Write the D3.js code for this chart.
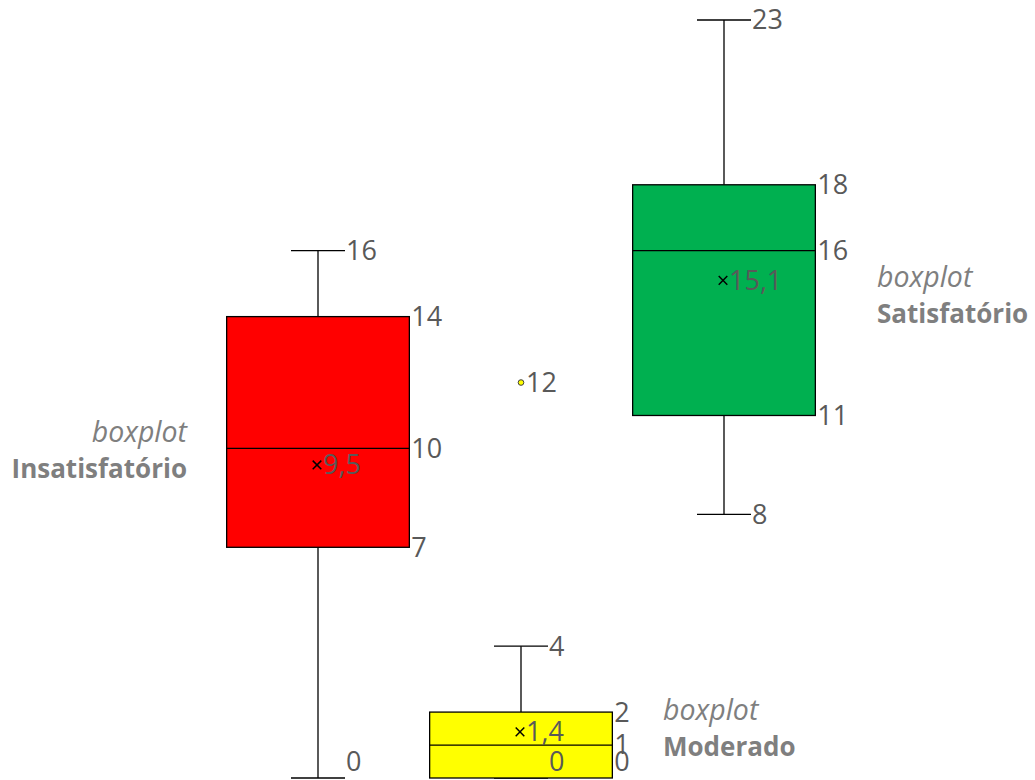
<!DOCTYPE html>
<html>
<head>
<meta charset="utf-8">
<script src="https://cdn.jsdelivr.net/npm/d3@7"></script>
<style>
  body { margin: 0; background: #fff; }
  text { font-family: "Open Sans", "Liberation Sans", sans-serif; }
</style>
</head>
<body>
<script>
// Box plot data
const categories = ["Insatisfatório", "Moderado", "Satisfatório"];
const minValues = [0, 0, 8];
const q1Values = [7, 0, 11];
const medianValues = [10, 1, 16];
const q3Values = [14, 2, 18];
const maxValues = [16, 4, 23];
const meanValues = [9.5, 1.4, 15.1];
const outlierValues = [[], [12], []];
const boxColors = ["#FF0000", "#FFFF00", "#00B050"];

const width = 1035, height = 780;
const labelColor = "#595959";
const fontSize = 27;

const locale = d3.formatLocale({ decimal: ",", thousands: ".", grouping: [3], currency: ["", ""] });
const fmt = locale.format("~g");

const svg = d3.select("body").append("svg")
    .attr("width", width)
    .attr("height", height);

const x = d3.scaleBand()
    .domain(categories)
    .range([216.5, 825.5])
    .paddingInner(0.1)
    .paddingOuter(0.05);

const y = d3.scaleLinear()
    .domain([0, 23])
    .range([778, 20]);

const capHalf = 27;
const labelBottom = 762; // labels are kept inside the plot area

const data = categories.map((c, i) => ({
    cat: c, min: minValues[i], q1: q1Values[i], med: medianValues[i],
    q3: q3Values[i], max: maxValues[i], mean: meanValues[i],
    outliers: outlierValues[i], color: boxColors[i]
}));

const g = svg.selectAll("g.box")
    .data(data)
    .enter().append("g")
    .attr("class", "box");

const cx = d => x(d.cat) + x.bandwidth() / 2;

// Whiskers
g.append("line")
    .attr("x1", cx).attr("x2", cx)
    .attr("y1", d => y(d.q3)).attr("y2", d => y(d.max))
    .attr("stroke", "#000").attr("stroke-width", 1.3);
g.append("line")
    .attr("x1", cx).attr("x2", cx)
    .attr("y1", d => y(d.q1)).attr("y2", d => y(d.min))
    .attr("stroke", "#000").attr("stroke-width", 1.3);
// Caps
["max", "min"].forEach(k => {
    g.append("line")
        .attr("x1", d => cx(d) - capHalf).attr("x2", d => cx(d) + capHalf)
        .attr("y1", d => y(d[k])).attr("y2", d => y(d[k]))
        .attr("stroke", "#000").attr("stroke-width", 1.3);
});

// Boxes (Q1..median and median..Q3)
g.append("rect")
    .attr("x", d => x(d.cat))
    .attr("width", x.bandwidth())
    .attr("y", d => y(d.q3))
    .attr("height", d => y(d.q1) - y(d.q3))
    .attr("fill", d => d.color)
    .attr("stroke", "#000").attr("stroke-width", 1.3);
g.append("line")
    .attr("x1", d => x(d.cat)).attr("x2", d => x(d.cat) + x.bandwidth())
    .attr("y1", d => y(d.med)).attr("y2", d => y(d.med))
    .attr("stroke", "#000").attr("stroke-width", 1.3);

// Mean markers
g.append("path")
    .attr("d", d3.symbol().type(d3.symbolTimes).size(50))
    .attr("transform", d => `translate(${cx(d) - 1},${y(d.mean)})`)
    .attr("stroke", "#000").attr("stroke-width", 1.5).attr("fill", "none");
g.append("text")
    .attr("x", d => cx(d) + 5)
    .attr("y", d => y(d.mean))
    .attr("dy", "0.35em")
    .attr("fill", labelColor)
    .style("font-size", fontSize + "px")
    .text(d => fmt(d.mean));

// Outliers
g.selectAll("circle.out")
    .data(d => d.outliers.map(v => ({ v, d })))
    .enter().append("circle")
    .attr("class", "out")
    .attr("cx", o => cx(o.d))
    .attr("cy", o => y(o.v))
    .attr("r", 2.8)
    .attr("fill", o => o.d.color)
    .attr("stroke", "#404040").attr("stroke-width", 1);
g.selectAll("text.out")
    .data(d => d.outliers.map(v => ({ v, d })))
    .enter().append("text")
    .attr("class", "out")
    .attr("x", o => cx(o.d) + 5)
    .attr("y", o => y(o.v))
    .attr("dy", "0.35em")
    .attr("fill", labelColor)
    .style("font-size", fontSize + "px")
    .text(o => fmt(o.v));

// Value labels: quartiles at the box edge, whisker ends at the cap
const valueLabels = [];
data.forEach(d => {
    ["q1", "med", "q3"].forEach(k => valueLabels.push({ xPos: x(d.cat) + x.bandwidth() + 2, v: d[k] }));
    ["min", "max"].forEach(k => valueLabels.push({ xPos: cx(d) + capHalf + 1, v: d[k] }));
});
svg.selectAll("text.value")
    .data(valueLabels)
    .enter().append("text")
    .attr("class", "value")
    .attr("x", d => d.xPos)
    .attr("y", d => Math.min(y(d.v), labelBottom))
    .attr("dy", "0.35em")
    .attr("fill", labelColor)
    .style("font-size", fontSize + "px")
    .text(d => fmt(d.v));

// Series names
const seriesNames = [
    { name: "Insatisfatório", x: 187, y: 432, anchor: "end" },
    { name: "Moderado", x: 663, y: 710, anchor: "start" },
    { name: "Satisfatório", x: 877, y: 277, anchor: "start" }
];
const names = svg.selectAll("g.name")
    .data(seriesNames)
    .enter().append("g")
    .attr("class", "name");
names.append("text")
    .attr("x", d => d.x).attr("y", d => d.y)
    .attr("dy", "0.35em")
    .attr("text-anchor", d => d.anchor)
    .attr("fill", "#7f7f7f")
    .style("font-size", "28.5px")
    .style("font-style", "italic")
    .text("boxplot");
names.append("text")
    .attr("x", d => d.x).attr("y", d => d.y + 37)
    .attr("dy", "0.35em")
    .attr("text-anchor", d => d.anchor)
    .attr("fill", "#7f7f7f")
    .style("font-size", "26px")
    .style("font-weight", "bold")
    .text(d => d.name);
</script>
</body>
</html>
